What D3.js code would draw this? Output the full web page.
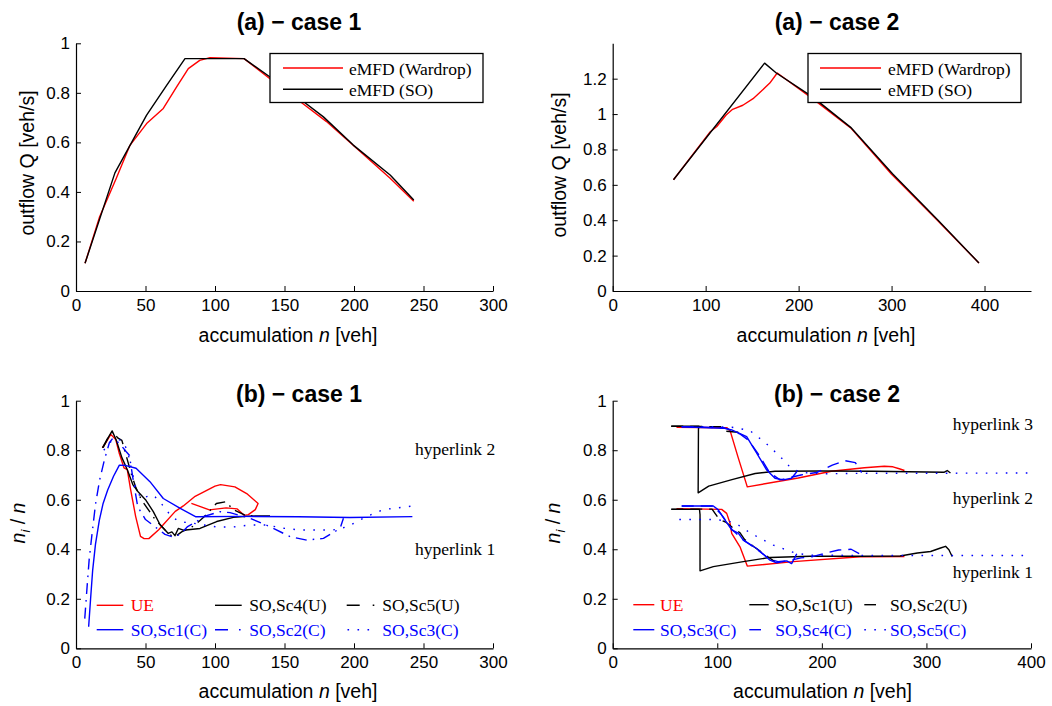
<!DOCTYPE html>
<html><head><meta charset="utf-8">
<script src="https://cdn.jsdelivr.net/npm/d3@7"></script>
<style>body{margin:0;background:#fff}svg{display:block}</style>
</head><body>
<svg id="chart" width="1052" height="706"></svg>
<script>
// ---------------- DATA ----------------
// tick values
const xTicks300 = [0, 50, 100, 150, 200, 250, 300];
const xTicks400 = [0, 100, 200, 300, 400];
const yTicks1 = [0, 0.2, 0.4, 0.6, 0.8, 1];
const yTicks12 = [0, 0.2, 0.4, 0.6, 0.8, 1, 1.2];

// (a) case 1 : [accumulation n, outflow Q]
const a1Wardrop = [[6.5,0.112],[17,0.3],[29,0.455],[38.8,0.588],[50.8,0.676],[62.8,0.737],[72.4,0.824],[80.8,0.898],[89,0.931],[96.4,0.942],[120.9,0.938],[140,0.855],[160,0.77],[180,0.685],[200,0.585],[226,0.455],[243,0.362]];
const a1SO = [[6.5,0.112],[28,0.477],[50.8,0.71],[65.2,0.83],[78.4,0.938],[120.9,0.938],[139.6,0.864],[160,0.78],[178,0.703],[199.5,0.589],[226,0.468],[243,0.367]];

// (a) case 2
const a2Wardrop = [[65.4,0.629],[105,0.9],[112,0.93],[122,0.995],[129,1.027],[140,1.05],[151,1.087],[160,1.13],[169,1.175],[177,1.232],[215,1.087],[256,0.922],[300,0.66],[310,0.608],[350,0.395],[394,0.158]];
const a2SO = [[65.4,0.629],[163.4,1.288],[176,1.232],[215.3,1.096],[256,0.925],[301,0.663],[350,0.4],[394,0.158]];

// (b) case 1 : [accumulation n, n_i/n]
const b1UE = [[19,0.81],[21.4,0.83],[25,0.864],[28.6,0.843],[31,0.79],[34.5,0.729],[36.9,0.722],[39.3,0.641],[42.9,0.533],[46.4,0.452],[49,0.443],[52.4,0.443],[59.5,0.479],[71.4,0.553],[77.2,0.575],[85.7,0.614],[100,0.655],[104,0.661],[114.3,0.652],[122.8,0.625],[131,0.585],[129,0.56],[124,0.54],[121,0.537],[116,0.563],[108,0.567],[96,0.559],[90,0.571],[83,0.585]];
const b1Sc4U = [[19,0.81],[22,0.84],[26,0.878],[29,0.84],[33,0.77],[37,0.72],[41,0.66],[45,0.63],[50,0.6],[55.6,0.552],[60.4,0.5],[66.4,0.464],[69,0.47],[71.2,0.455],[73.6,0.484],[77.2,0.477],[89.2,0.484],[101.2,0.512],[113.2,0.529],[125.2,0.534],[139.6,0.535]];
const b1Sc5U = [[19.5,0.81],[23,0.85],[26.5,0.875],[30,0.85],[33,0.84],[35,0.8],[37,0.76],[40,0.7],[43,0.65],[47,0.6],[52,0.56],[57,0.52],[62,0.49],[67,0.46],[71,0.45],[76,0.47],[85,0.495],[92,0.53],[97,0.56],[101,0.585],[108,0.592],[113,0.56],[117,0.55],[122,0.537],[130,0.535]];
const b1Sc1C = [[9.1,0.087],[10.5,0.2],[12,0.316],[14,0.42],[16.8,0.518],[19.5,0.585],[22.8,0.639],[27,0.695],[31.2,0.74],[36,0.738],[43.2,0.727],[53.2,0.673],[62.8,0.605],[75,0.565],[86.3,0.531],[120,0.533],[160,0.531],[197,0.528],[242,0.532]];
const b1Sc2C = [[6.3,0.12],[8,0.25],[9.5,0.36],[11.5,0.46],[14,0.58],[17,0.68],[20.4,0.76],[24,0.83],[26.4,0.848],[31.2,0.828],[36,0.795],[38.4,0.78],[40.8,0.692],[44.4,0.572],[50,0.52],[57,0.49],[64,0.46],[69.5,0.45],[75,0.46],[80,0.49],[86.8,0.512],[91.6,0.532],[103.6,0.552],[110.8,0.548],[125.2,0.525],[139.6,0.491],[154,0.451],[166,0.437],[178,0.444],[190,0.484],[192.4,0.525]];
const b1Sc3C = [[20,0.8],[24,0.83],[28,0.845],[33,0.84],[37,0.8],[40,0.72],[43,0.65],[46.8,0.605],[52,0.615],[55.6,0.619],[60.4,0.592],[64,0.565],[69,0.53],[74.8,0.511],[84.4,0.505],[101.2,0.49],[113.2,0.49],[125.2,0.498],[137.2,0.498],[149,0.485],[161,0.478],[173,0.478],[185,0.478],[194.7,0.49],[209.5,0.533],[221,0.56],[241,0.574]];

// (b) case 2 : hyperlink 3 (upper) and hyperlink 1 (lower) branches
const b2UEh3 = [[61,0.893],[109.3,0.891],[112.4,0.877],[120,0.77],[128.7,0.652],[177.4,0.688],[209,0.715],[240.7,0.729],[259.7,0.735],[268,0.733],[274,0.725],[279,0.718]];
const b2UEh1 = [[61,0.564],[104.2,0.561],[109,0.545],[112.2,0.505],[113.8,0.464],[121.7,0.41],[128.7,0.332],[172.7,0.35],[236.5,0.37],[279,0.371]];
const b2Sc1Uh3 = [[56,0.897],[82.5,0.897],[82,0.885],[81.7,0.628],[91.8,0.655],[114,0.681],[136.2,0.706],[155.2,0.715],[200,0.716],[250,0.715],[300,0.712],[316.7,0.711],[319.9,0.718],[323,0.708]];
const b2Sc1Uh1 = [[56,0.561],[83,0.561],[83.5,0.54],[83.5,0.313],[96.2,0.33],[124.9,0.35],[150.4,0.367],[188.7,0.372],[236.5,0.372],[274.8,0.373],[291.4,0.385],[304,0.391],[313.5,0.405],[318.3,0.412],[321.5,0.398],[324.6,0.371]];
const b2Sc2Uh3 = [[56,0.897],[104,0.895],[108,0.877],[122,0.872]];
const b2Sc2Uh1 = [[56,0.562],[95,0.562],[102,0.52],[108,0.51],[114,0.49],[121.8,0.466],[126,0.44],[135,0.41],[145,0.38],[155,0.35]];
const b2Sc3Ch3 = [[66,0.895],[105.8,0.889],[113.8,0.882],[128.1,0.855],[137.7,0.788],[147.3,0.72],[155.2,0.687],[163.1,0.68],[171.1,0.687],[176,0.713]];
const b2Sc3Ch1 = [[66,0.575],[96.2,0.575],[101,0.559],[104.2,0.538],[113.8,0.478],[120.1,0.465],[124.9,0.437],[137.7,0.403],[150.4,0.356],[156.8,0.345],[166.4,0.353],[171.1,0.342],[176,0.382]];
const b2Sc4Ch3 = [[66,0.895],[106,0.891],[114,0.88],[122,0.865],[130,0.84],[140,0.78],[150,0.71],[160,0.68],[170,0.69],[180,0.7],[195,0.71],[210,0.74],[222,0.758],[232,0.75],[238,0.71]];
const b2Sc4Ch1 = [[66,0.575],[96,0.575],[104,0.54],[114,0.48],[125,0.437],[138,0.4],[150,0.36],[158,0.35],[170,0.355],[180,0.365],[191,0.37],[205,0.386],[216,0.397],[228,0.4],[238,0.377]];
const b2Sc5Ch3 = [[66,0.895],[100,0.895],[114,0.893],[131,0.88],[146,0.83],[160,0.775],[170,0.73],[180,0.71],[200,0.705],[250,0.707],[300,0.707],[398,0.708]];
const b2Sc5Ch1 = [[63.7,0.52],[96.2,0.52],[110,0.515],[120.1,0.498],[129.7,0.471],[140.9,0.444],[153.6,0.417],[166.4,0.397],[176,0.383],[190,0.376],[250,0.375],[300,0.375],[398,0.375]];

// ---------------- STYLE ----------------
const SANS = "'Liberation Sans', Arial, Helvetica, sans-serif";
const SERIF = "'Liberation Serif', 'Times New Roman', Times, serif";
const RED = "#ff0000", BLUE = "#0000ff", BLACK = "#000000";
const DASH = "12 7", DASHDOT = "11 6 1.6 6", DOT = "1.6 8.4";
const TICK_FS = 17, LABEL_FS = 19.5, TITLE_FS = 23, SERIF_FS = 17.5;

const svg = d3.select("#chart");

function drawPanel(cfg) {
  const x = d3.scaleLinear().domain(cfg.xd).range([cfg.left, cfg.right]);
  const y = d3.scaleLinear().domain(cfg.yd).range([cfg.bottom, cfg.top]);
  const g = svg.append("g");
  const line = d3.line().x(d => x(d[0])).y(d => y(d[1]));
  cfg.series.forEach(s => {
    g.append("path").datum(s.data)
      .attr("d", line)
      .attr("fill", "none")
      .attr("stroke", s.color)
      .attr("stroke-width", 1.4)
      .attr("stroke-linejoin", "round")
      .attr("stroke-dasharray", s.dash || null);
  });
  const fmt = d3.format("~g");
  const xa = g.append("g").attr("transform", `translate(0,${cfg.bottom})`)
    .call(d3.axisBottom(x).tickValues(cfg.xt).tickSize(-5).tickSizeOuter(0).tickPadding(8).tickFormat(fmt));
  const ya = g.append("g").attr("transform", `translate(${cfg.left},0)`)
    .call(d3.axisLeft(y).tickValues(cfg.yt).tickSize(-5).tickSizeOuter(0).tickPadding(6).tickFormat(fmt));
  [xa, ya].forEach(a => {
    a.attr("font-family", SANS).attr("font-size", TICK_FS);
    a.select(".domain").attr("stroke-width", 1.2);
    a.selectAll(".tick line").attr("stroke-width", 1);
    a.selectAll(".tick text").attr("fill", "#000");
  });
  return { x, y, g };
}

function title(txt, cx, by) {
  svg.append("text").attr("x", cx).attr("y", by).attr("text-anchor", "middle")
    .attr("font-family", SANS).attr("font-weight", "bold").attr("font-size", TITLE_FS).text(txt);
}
function xLabel(cx, by) {
  const t = svg.append("text").attr("x", cx).attr("y", by).attr("text-anchor", "middle")
    .attr("font-family", SANS).attr("font-size", LABEL_FS);
  t.append("tspan").text("accumulation ");
  t.append("tspan").attr("font-style", "italic").text("n");
  t.append("tspan").text(" [veh]");
}
function yLabelQ(bx, cy) {
  svg.append("text").attr("transform", `translate(${bx},${cy}) rotate(-90)`).attr("text-anchor", "middle")
    .attr("font-family", SANS).attr("font-size", LABEL_FS).text("outflow Q [veh/s]");
}
function yLabelN(bx, cy) {
  const t = svg.append("text").attr("transform", `translate(${bx},${cy}) rotate(-90)`).attr("text-anchor", "middle")
    .attr("font-family", SANS).attr("font-size", LABEL_FS);
  t.append("tspan").attr("font-style", "italic").text("n");
  t.append("tspan").attr("font-style", "italic").attr("font-size", 13).attr("dy", 5).text("i");
  t.append("tspan").attr("dy", -5).text(" / ");
  t.append("tspan").attr("font-style", "italic").text("n");
}
function serifText(txt, x, y, color, anchor) {
  svg.append("text").attr("x", x).attr("y", y).attr("text-anchor", anchor || "start")
    .attr("font-family", SERIF).attr("font-size", SERIF_FS).attr("fill", color || "#000").text(txt);
}
function legLine(x1, x2, yy, color, dash) {
  svg.append("line").attr("x1", x1).attr("x2", x2).attr("y1", yy).attr("y2", yy)
    .attr("stroke", color).attr("stroke-width", 1.4).attr("stroke-dasharray", dash || null);
}
function boxLegend(bx0, bx1, lx0, lx1, tx, entries) {
  svg.append("rect").attr("x", bx0).attr("y", 53.5).attr("width", bx1 - bx0).attr("height", 49)
    .attr("fill", "#fff").attr("stroke", "#000").attr("stroke-width", 1.3);
  entries.forEach((e, i) => {
    const yy = 68 + i * 21.3;
    legLine(lx0, lx1, yy, e.color);
    serifText(e.label, tx, yy + 6.5, "#000");
  });
}

// ---------------- PANELS ----------------
// (a) case 1
drawPanel({ left: 76, right: 493, top: 43.3, bottom: 291, xd: [0, 300], yd: [0, 1], xt: xTicks300, yt: yTicks1,
  series: [{ data: a1Wardrop, color: RED }, { data: a1SO, color: BLACK }] });
title("(a) \u2212 case 1", 299, 30);
xLabel(288, 341.5);
yLabelQ(34, 163);
boxLegend(270, 483, 283, 343, 349, [{ label: "eMFD (Wardrop)", color: RED }, { label: "eMFD (SO)", color: BLACK }]);

// (a) case 2
drawPanel({ left: 612.7, right: 1031, top: 43.3, bottom: 291, xd: [0, 450], yd: [0, 1.4], xt: xTicks400, yt: yTicks12,
  series: [{ data: a2Wardrop, color: RED }, { data: a2SO, color: BLACK }] });
title("(a) \u2212 case 2", 837, 30);
xLabel(826, 342);
yLabelQ(566, 165);
boxLegend(808, 1021, 820, 881, 888, [{ label: "eMFD (Wardrop)", color: RED }, { label: "eMFD (SO)", color: BLACK }]);

// (b) case 1
drawPanel({ left: 76, right: 493, top: 400.7, bottom: 648.3, xd: [0, 300], yd: [0, 1], xt: xTicks300, yt: yTicks1,
  series: [
    { data: b1UE, color: RED },
    { data: b1Sc4U, color: BLACK },
    { data: b1Sc5U, color: BLACK, dash: DASHDOT },
    { data: b1Sc1C, color: BLUE },
    { data: b1Sc2C, color: BLUE, dash: DASHDOT },
    { data: b1Sc3C, color: BLUE, dash: DOT }
  ] });
title("(b) \u2212 case 1", 299, 402);
xLabel(288, 697.5);
yLabelN(25, 523);
serifText("hyperlink 2", 415, 455);
serifText("hyperlink 1", 415, 555);
// legend (b) case 1
legLine(96.7, 123.3, 605.3, RED); serifText("UE", 130.7, 611, RED);
legLine(215, 241.7, 605.3, BLACK); serifText("SO,Sc4(U)", 249.3, 611, BLACK);
legLine(346.7, 375, 605.3, BLACK, "13 13 1.6 20"); serifText("SO,Sc5(U)", 382.3, 611, BLACK);
legLine(96.7, 123.3, 629.7, BLUE); serifText("SO,Sc1(C)", 130.7, 635.5, BLUE);
legLine(215, 242, 629.7, BLUE, "13 11 1.6 20"); serifText("SO,Sc2(C)", 249.3, 635.5, BLUE);
legLine(347.5, 370, 629.7, BLUE, "1.6 8.4"); serifText("SO,Sc3(C)", 382.3, 635.5, BLUE);

// (b) case 2
drawPanel({ left: 612.7, right: 1031, top: 400.7, bottom: 648.3, xd: [0, 400], yd: [0, 1], xt: xTicks400, yt: yTicks1,
  series: [
    { data: b2UEh3, color: RED }, { data: b2UEh1, color: RED },
    { data: b2Sc1Uh3, color: BLACK }, { data: b2Sc1Uh1, color: BLACK },
    { data: b2Sc2Uh3, color: BLACK, dash: DASH }, { data: b2Sc2Uh1, color: BLACK, dash: DASH },
    { data: b2Sc3Ch3, color: BLUE }, { data: b2Sc3Ch1, color: BLUE },
    { data: b2Sc4Ch3, color: BLUE, dash: DASH }, { data: b2Sc4Ch1, color: BLUE, dash: DASH },
    { data: b2Sc5Ch3, color: BLUE, dash: DOT }, { data: b2Sc5Ch1, color: BLUE, dash: DOT }
  ] });
title("(b) \u2212 case 2", 837, 402);
xLabel(822.5, 698);
yLabelN(560, 523);
serifText("hyperlink 3", 952.7, 430);
serifText("hyperlink 2", 952.7, 504);
serifText("hyperlink 1", 952.7, 578);
// legend (b) case 2
legLine(633.3, 654.3, 604.7, RED); serifText("UE", 660, 611, RED);
legLine(749.3, 768.7, 604.7, BLACK); serifText("SO,Sc1(U)", 775.3, 611, BLACK);
legLine(864.3, 876, 604.7, BLACK); serifText("SO,Sc2(U)", 890, 611, BLACK);
legLine(633.3, 654.3, 629.7, BLUE); serifText("SO,Sc3(C)", 660, 635.5, BLUE);
legLine(749.3, 761, 629.7, BLUE); serifText("SO,Sc4(C)", 775.3, 635.5, BLUE);
legLine(864.3, 886, 629.7, BLUE, "1.6 8.4"); serifText("SO,Sc5(C)", 890, 635.5, BLUE);
</script>
</body></html>
